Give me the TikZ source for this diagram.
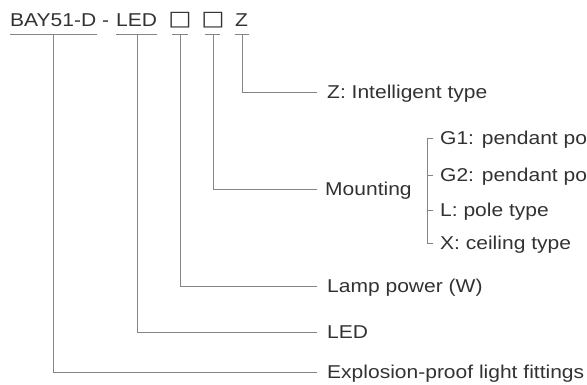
\documentclass[tikz,border=0pt]{standalone}
\usepackage{fontspec}
\setmainfont{Liberation Sans}[FakeStretch=1.13]
\newfontfamily\boxfont{DejaVu Sans}[FakeStretch=1.2]
\definecolor{txtc}{RGB}{50,50,50}
\definecolor{linec}{RGB}{132,132,132}
\begin{document}
\begin{tikzpicture}[x=1pt,y=-1pt,
  lbl/.style={font=\fontsize{18.6}{20}\selectfont, text=txtc, inner sep=0pt, text height=13.3pt, text depth=0pt, anchor=west},
  code/.style={font=\fontsize{18.6}{20}\selectfont, text=txtc, inner sep=0pt, anchor=base west},
  boxc/.style={font=\boxfont\fontsize{20.5}{22}\selectfont, text=txtc, inner sep=0pt, anchor=base},
  conn/.style={draw=linec, line width=0.9pt}]
\useasboundingbox (0,0) rectangle (587,384);
% code pieces
\node[code] (bay) at (10,26) {BAY51-D};
\node[code] (dash) at (102,26) {-};
\node[code] (led) at (116,26) {LED};
\node[boxc] (bxa) at (180,25.5) {□};
\node[boxc] (bxb) at (213,25.5) {□};
\node[code] (zz) at (235,26) {Z};
% underlines
\coordinate (u1a) at (10,34.5);  \coordinate (u1b) at (97,34.5);  \coordinate (v1) at (53,34.5);
\coordinate (u2a) at (116,34.5); \coordinate (u2b) at (157,34.5); \coordinate (v2) at (137,34.5);
\coordinate (u3a) at (172,34.5); \coordinate (u3b) at (188,34.5); \coordinate (v3) at (180,34.5);
\coordinate (u4a) at (205,34.5); \coordinate (u4b) at (220,34.5); \coordinate (v4) at (213,34.5);
\coordinate (u5a) at (235,34.5); \coordinate (u5b) at (249,34.5); \coordinate (v5) at (242,34.5);
\foreach \i in {1,...,5} {\draw[conn] (u\i a) -- (u\i b);}
% labels
\node[lbl] (lz) at (327,92) {Z: Intelligent type};
\node[lbl] (lm) at (325,189) {Mounting};
\node[lbl] (lp) at (327,286) {Lamp power (W)};
\node[lbl] (ll) at (327,332) {LED};
\node[lbl] (le) at (327,372) {Explosion-proof light fittings};
\node[lbl] (g1) at (440,138) {G1: pendant po};
\node[lbl] (g2) at (440,175) {G2: pendant po};
\node[lbl] (gl) at (440,210) {L: pole type};
\node[lbl] (gx) at (440,243) {X: ceiling type};
% connectors
\draw[conn] (v5) |- ([xshift=-10pt]lz.west);
\draw[conn] (v4) |- ([xshift=-8pt]lm.west);
\draw[conn] (v3) |- ([xshift=-10pt]lp.west);
\draw[conn] (v2) |- ([xshift=-10pt]ll.west);
\draw[conn] (v1) |- ([xshift=-10pt]le.west);
% bracket
\draw[conn] ([xshift=-7pt]g1.west) -- ([xshift=-13pt]g1.west) -- ([xshift=-13pt]gx.west) -- ([xshift=-7pt]gx.west);
\draw[conn] ([xshift=-13pt]g2.west) -- ([xshift=-7pt]g2.west);
\draw[conn] ([xshift=-13pt]gl.west) -- ([xshift=-7pt]gl.west);
\end{tikzpicture}
\end{document}
